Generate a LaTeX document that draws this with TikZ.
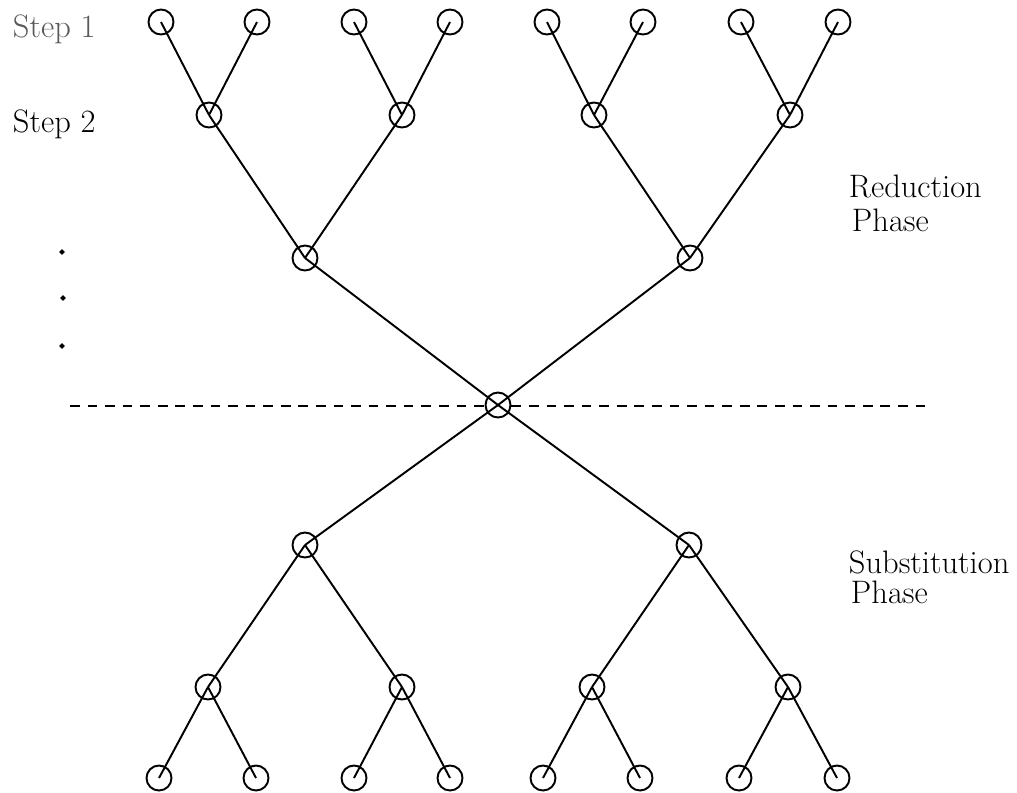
\documentclass[tikz,border=0pt]{standalone}
\tikzset{proc/.style={draw, circle, minimum size=0.5cm, inner sep=0pt},
  phase/.style={anchor=base west, inner sep=0pt, font=\fontsize{18.5}{22}\selectfont}}
\begin{document}
\begin{tikzpicture}[x=0.02cm, y=-0.02cm, line width=1.1pt]
\useasboundingbox (0,0) rectangle (1017,792);
% reduction tree
\foreach \x [count=\i] in {161,257,354,450,547,643,741,838}
  \node[proc] (a\i) at (\x,22) {};
\foreach \x [count=\i] in {209,402,594,790}
  \node[proc] (b\i) at (\x,115) {};
\node[proc] (c1) at (305,258) {};
\node[proc] (c2) at (690,258) {};
\node[proc] (m) at (498,405) {};
% substitution tree
\node[proc] (d1) at (305,545) {};
\node[proc] (d2) at (689,545) {};
\foreach \x [count=\i] in {208,402,592,788}
  \node[proc] (e\i) at (\x,687) {};
\foreach \x [count=\i] in {159,256,354,450,543,640,739,837}
  \node[proc] (f\i) at (\x,778) {};
\foreach \i/\j in {1/1,2/1,3/2,4/2,5/3,6/3,7/4,8/4}{
  \draw (a\i.center)--(b\j.center);
  \draw (f\i.center)--(e\j.center);
}
\foreach \i/\j in {1/1,2/1,3/2,4/2}{
  \draw (b\i.center)--(c\j.center);
  \draw (e\i.center)--(d\j.center);
}
\draw (c1.center)--(m.center)--(c2.center);
\draw (d1.center)--(m.center)--(d2.center);
% phase border
\coordinate (l) at (70,406);
\coordinate (r) at (930,406);
\draw[dash pattern=on 5.5pt off 4.5pt] (l)--(l-|m.west) (r-|m.east)--(r);
% labels
\node[phase, text=black!65] (s1) at (12,37) {Step 1};
\node[phase] (s2) at (12,132) {Step 2};
\filldraw (62,252) circle (1.5) (63,298) circle (1.5) (62,346) circle (1.5);
\node[phase] (red) at (848,197) {Reduction};
\node[phase] (redp) at (851,231) {Phase};
\node[phase] (sub) at (848,573) {Substitution};
\node[phase] (subp) at (850,603) {Phase};
\end{tikzpicture}
\end{document}
